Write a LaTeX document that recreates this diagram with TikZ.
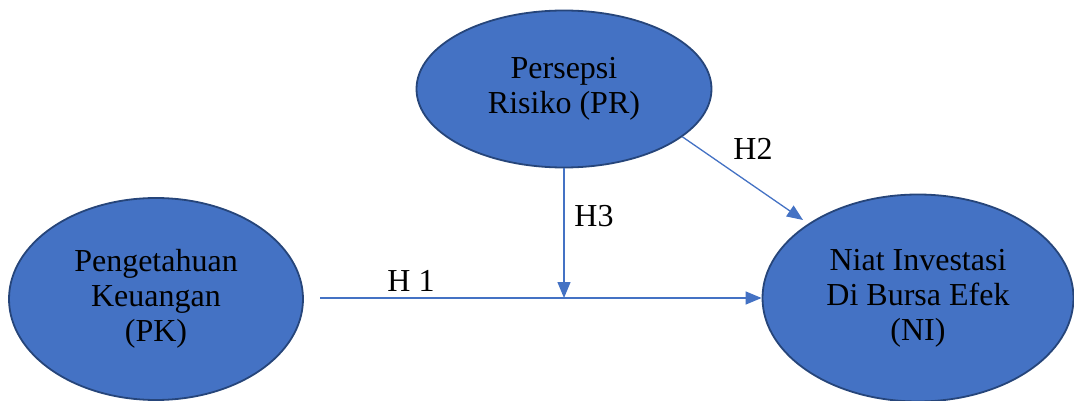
\documentclass[tikz,border=0pt]{standalone}
\usepackage{fontspec}
\setmainfont{Liberation Serif}
\usepackage{xcolor}
\usetikzlibrary{shapes,arrows.meta,positioning,calc}
\definecolor{varfill}{HTML}{4472C4}
\definecolor{varline}{HTML}{26457A}
\tikzset{
  var/.style={ellipse, draw=varline, line width=1.8pt, fill=varfill, inner sep=0pt,
    align=center, font=\fontsize{32}{35}\selectfont},
  path/.style={draw=varfill, line width=1.3pt, -{Triangle[length=16pt,width=13pt]}},
  hlbl/.style={font=\fontsize{32}{35}\selectfont, inner sep=0pt}
}

\begin{document}
\begin{tikzpicture}[x=1pt, y=-1pt]
            \useasboundingbox (0,0) rectangle (1074,401);
            % Variables
            \node[var, minimum width=294pt, minimum height=202pt] (pk) at (156,299) {Pengetahuan\\Keuangan\\(PK)};
            \node[var, minimum width=295pt, minimum height=157pt] (pr) at (564,89) {Persepsi\\Risiko (PR)};
            \node[var, minimum width=311pt, minimum height=207pt] (ni) at (918,298) {Niat Investasi\\Di Bursa Efek\\(NI)};

            % Hypotheses
            \coordinate (h1start) at (320,298);
            \coordinate (h3end) at (564,298);
            \coordinate (h2end) at (803,220);
            \draw[path] (h1start) -- (ni.west);
            \draw[path] (pr.south) -- (h3end);
            \draw[path] (pr.-22) -- (h2end);
            \node[hlbl] (h1) at (411,281) {H 1};
            \node[hlbl] (h3) at (594,216) {H3};
            \node[hlbl] (h2) at (753,149) {H2};
        \end{tikzpicture}
\end{document}
